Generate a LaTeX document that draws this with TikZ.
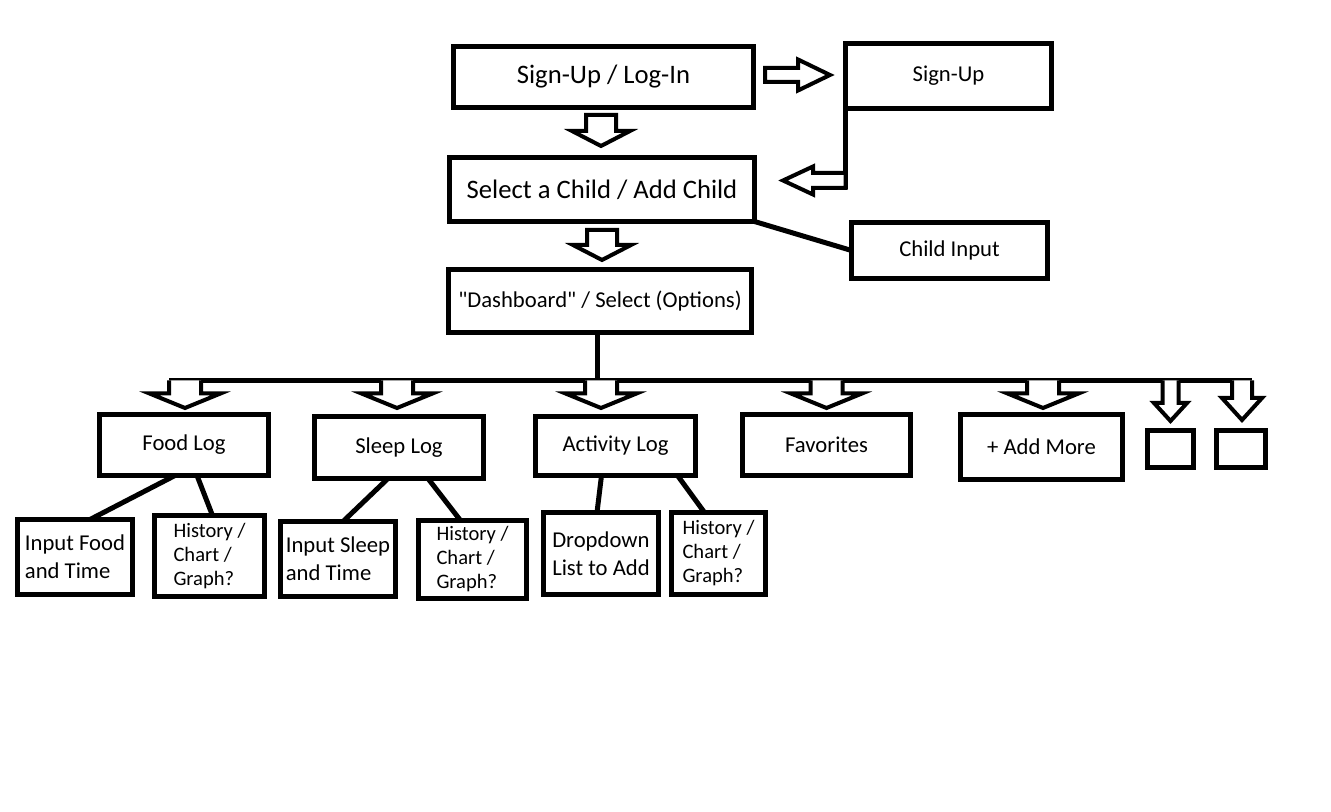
\documentclass[tikz,border=0pt]{standalone}
\usepackage{fontspec}
\setmainfont{Carlito}[Ligatures=TeXOff]
\usetikzlibrary{calc}
\newdimen\pxu
\pxu=0.75pt
\tikzset{
  box/.style={draw=black, line width=5\pxu, inner sep=0pt, outer sep=0pt, align=center},
  sz/.style 2 args={minimum width=#1\pxu, minimum height=#2\pxu},
  big/.style={font=\fontsize{20}{24}\selectfont},
  med/.style={font=\fontsize{17}{21}\selectfont},
  sub/.style={font=\fontsize{15.4}{18}\selectfont},
  link/.style={line width=5\pxu},
  barrow/.style={draw=black, line width=4\pxu, line join=miter, fill=white},
}
% #1 start (shaft tail centre), #2 total length, #3 shaft half width, #4 head half width, #5 head length
\newcommand\downblock[5]{%
  \draw[barrow] (#1) ++(-#3,0) -- ++(0,{#2-#5}) -- ++({#3-#4},0) -- ++(#4,#5) -- ++(#4,-#5) -- ++({#3-#4},0) -- ++(0,{#5-#2}) -- cycle;}
\newcommand\busblock[5]{%
  \draw[barrow] (#1) ++(-#3,0) -- ++(0,{#2-#5}) -- ++({#3-#4},0) -- ++(#4,#5) -- ++(#4,-#5) -- ++({#3-#4},0) -- ++(0,{#5-#2});}
\newcommand\rightblock[5]{%
  \draw[barrow] (#1) ++(0,-#3) -- ++({#2-#5},0) -- ++(0,{#3-#4}) -- ++(#5,#4) -- ++(-#5,#4) -- ++(0,{#3-#4}) -- ++({#5-#2},0) -- cycle;}
\newcommand\leftblock[5]{%
  \draw[barrow] (#1) ++(0,-#3) -- ++({#5-#2},0) -- ++(0,{#3-#4}) -- ++(-#5,#4) -- ++(#5,#4) -- ++(0,{#3-#4}) -- ++({#2-#5},0) -- cycle;}
\begin{document}
\begin{tikzpicture}[x=0.75pt, y=-0.75pt]
\fill[white] (0,0) rectangle (1331,812);
\useasboundingbox (0,0) rectangle (1331,812);

% top boxes
\node[box,big,sz={300}{61}] (login) at (603.5,77) {Sign-Up / Log-In};
\node[box,med,sz={206}{65}] (signup) at (948.5,76) {Sign-Up};
\node[box,big,sz={305}{64}] (select) at (602,189.5) {Select a Child / Add Child};
\node[box,med,sz={196}{56}] (childin) at (949.5,250.5) {Child Input};
\node[box,med,sz={303}{63}] (dash) at (600,301) {"Dashboard" / Select (Options)};

% option boxes
\node[box,med,sz={169}{61}] (food) at (184,445) {Food Log};
\node[box,med,sz={169}{62}] (sleep) at (399,447.5) {Sleep Log};
\node[box,med,sz={160}{59}] (activity) at (615.5,446) {Activity Log};
\node[box,med,sz={168}{61}] (fav) at (826.5,445) {Favorites};
\node[box,med,sz={162}{65}] (addmore) at (1041.5,447) {+ Add More};
\node[box,sz={46}{37}] (extraA) at (1170.5,449) {};
\node[box,sz={49}{37}] (extraB) at (1241,449) {};

% sub boxes
\node[box,med,sz={115}{75},align=left] (inputfood) at (75,557) {Input Food\\and Time};
\node[box,sub,sz={110}{81},align=left] (histA) at (209.5,556) {History /\\Chart /\\Graph?};
\node[box,med,sz={115}{75},align=left] (inputsleep) at (338,559) {Input Sleep\\and Time};
\node[box,sub,sz={108}{78},align=left] (histB) at (472.5,559.5) {History /\\Chart /\\Graph?};
\node[box,med,sz={115}{82},align=left] (dropdown) at (601,553.5) {Dropdown\\List to Add};
\node[box,sub,sz={94}{82},align=left] (histC) at (718.5,553.5) {History /\\Chart /\\Graph?};

% block arrows at the top
\downblock{$(login.south)+(-2.5,7.5)$}{31}{15}{29}{15}
\downblock{$(select.south)+(0,8.5)$}{30}{15}{29}{15}
\rightblock{$(login.east)+(11.5,-2)$}{65}{7}{15.5}{32}
\draw[link] (signup.south west) -- ++(0,81) coordinate (elbow);
\leftblock{$(signup.south west)+(0,72)$}{62.5}{7.5}{14}{30}

% thin connector to child input
\draw[link] (select.south east) -- (childin.west);

% bus from dashboard
\coordinate (bus) at ($(dash.south)+(-3,48)$);
\draw[link] ($(dash.south)+(-3,0)$) -- (bus);
\draw[link, line cap=square] ($(bus)+(-428,0)$) -- ($(bus)+(655,0)$);

\coordinate (afood) at ($(food.north)+(1,0)$);
\coordinate (asleep) at ($(sleep.north)+(-2,0)$);
\coordinate (aact) at ($(activity.north)+(-14.5,0)$);
\coordinate (afav) at ($(fav.north)+(0,0)$);
\coordinate (aadd) at ($(addmore.north)+(1.5,0)$);
\coordinate (aexA) at ($(extraA.north)+(0,0)$);
\coordinate (aexB) at ($(extraB.north)+(1,0)$);
\busblock{afood |- bus}{27.5}{16}{35.5}{14.5}
\busblock{asleep |- bus}{27.5}{16}{35.5}{14.5}
\busblock{aact |- bus}{27.5}{16}{35.5}{14.5}
\busblock{afav |- bus}{27.5}{16}{35.5}{14.5}
\busblock{aadd |- bus}{27.5}{16}{35.5}{14.5}
\busblock{aexA |- bus}{40.5}{8}{16.5}{18}
\busblock{aexB |- bus}{39.5}{10}{20}{22}

% connectors to sub boxes
\draw[link] ($(food.south)+(-9,0)$) -- ($(inputfood.north)+(15,0)$);
\draw[link] ($(food.south)+(13,0)$) -- ($(histA.north)+(3,0)$);
\draw[link] ($(sleep.south)+(-11,0)$) -- ($(inputsleep.north)+(5,0)$);
\draw[link] ($(sleep.south)+(29,0)$) -- ($(histB.north)+(-12,0)$);
\draw[link] ($(activity.south)+(-14,0)$) -- ($(dropdown.north)+(-4,0)$);
\draw[link] ($(activity.south)+(62,0)$) -- ($(histC.north)+(-14,0)$);
\end{tikzpicture}
\end{document}
